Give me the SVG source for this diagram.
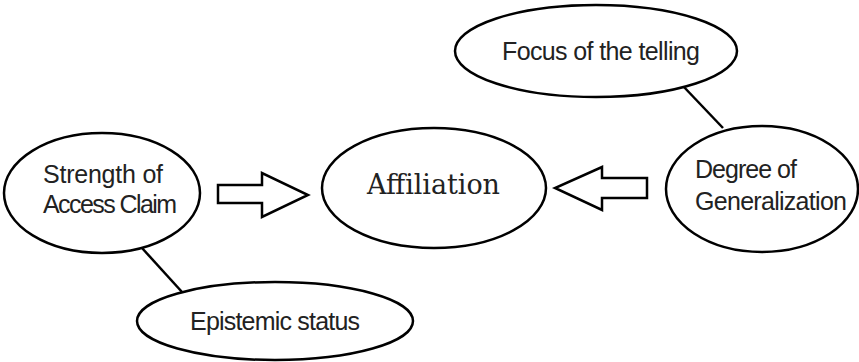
<svg xmlns="http://www.w3.org/2000/svg" width="859" height="362" viewBox="0 0 859 362">
<style>
.n{fill:#fff;stroke:#000;stroke-width:2.5}
.t{font-family:"Liberation Sans",Arial,sans-serif;font-size:25px;fill:#222}
.s{font-family:"DejaVu Serif","Liberation Serif",serif;font-size:27px;fill:#222}
.c{fill:none;stroke:#000;stroke-width:2.5}
.a{fill:#fff;stroke:#000;stroke-width:2.5;stroke-linejoin:miter}
</style>
<rect width="859" height="362" fill="#fff"/>
<g id="connectors">
<line class="c" x1="142" y1="248" x2="182" y2="292"/>
<line class="c" x1="683" y1="86" x2="723" y2="128"/>
<polygon class="a" points="218,185 262,185 262,173 308,195 262,217 262,203 218,203"/>
<polygon class="a" points="647,178 602,178 602,167 555,188 602,210 602,198 647,198"/>
</g>
<g id="strength">
<ellipse class="n" cx="102" cy="193" rx="98" ry="60"/>
<text class="t" x="43" y="183" textLength="120">Strength of</text>
<text class="t" x="43" y="213" textLength="134">Access Claim</text>
</g>
<g id="affiliation">
<ellipse class="n" cx="434" cy="188" rx="112" ry="60"/>
<text class="s" x="367" y="194" textLength="133">Affiliation</text>
</g>
<g id="degree">
<ellipse class="n" cx="762" cy="189" rx="96" ry="63"/>
<text class="t" x="695" y="178" textLength="102">Degree of</text>
<text class="t" x="695" y="210" textLength="152">Generalization</text>
</g>
<g id="focus">
<ellipse class="n" cx="596" cy="51" rx="141" ry="46"/>
<text class="t" x="502" y="60" textLength="198">Focus of the telling</text>
</g>
<g id="epistemic">
<ellipse class="n" cx="275" cy="321" rx="138" ry="39"/>
<text class="t" x="190" y="330" textLength="170">Epistemic status</text>
</g>
</svg>
